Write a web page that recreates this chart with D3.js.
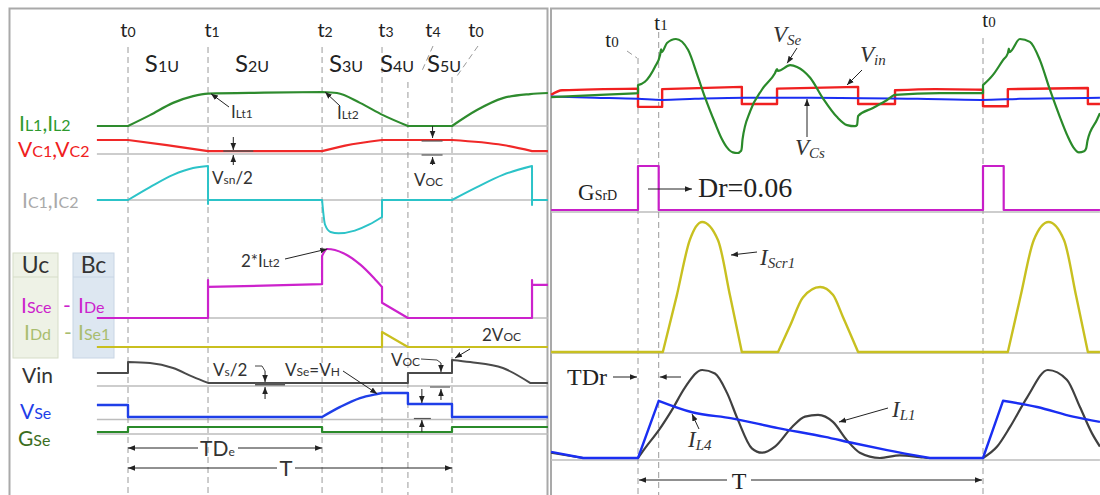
<!DOCTYPE html>
<html>
<head>
<meta charset="utf-8">
<script src="https://cdn.jsdelivr.net/npm/d3@7"></script>
<style>
  html, body { margin: 0; padding: 0; background: #fff; }
  svg { display: block; }
</style>
</head>
<body>
<svg id="chart" width="1100" height="495"></svg>
<script>
// ===================== DATA =====================
// Left panel: time in percent of the switching period T (t0 = 0, next t0 = 100)
const leftTimes      = [0, 24.7, 59.9, 78.4, 86.4, 100];
const leftTimeNames  = ["0", "1", "2", "3", "4", "0"];
const stageNames     = ["1U", "2U", "3U", "4U", "5U"];
const stageAt        = [5.2, 33, 62, 77.8, 92.3];

// Waveforms, [t, normalised level]; a repeated t marks a corner or a vertical edge
const iL12 = [[-9.6,0],[0,0],[0,0],[6.8,0.32],[13.9,0.68],[20.1,0.88],[24.7,0.95],[42,0.98],[59.9,1.0],[59.9,1.0],
  [64.5,0.97],[71.6,0.68],[78.7,0.32],[86.4,0],[86.4,0],[100,0],[100,0],[107.7,0.47],[115.7,0.82],[124.1,0.94],[129.6,0.97]];
const vC12 = [[-9.6,1],[0,1],[0,1],[12,0.64],[24.7,0.21],[24.7,0.21],[59.9,0.21],[59.9,0.21],[67,0.6],[78.4,1],[78.4,1],
  [100,1],[100,1],[115.7,0.64],[124.7,0.21],[124.7,0.21],[129.6,0.21]];
const iC12 = [[-9.6,0],[0,0],[0,0],[6.8,0.38],[13.9,0.74],[20.1,0.94],[24.7,1.0],[24.7,-0.12],[24.7,0],[59.9,0],[59.9,0],
  [60.8,-0.72],[62.5,-0.94],[65,-0.98],[70,-0.9],[74.5,-0.72],[78.4,-0.5],[78.4,0],[100,0],[100,0],[107.7,0.38],
  [115.7,0.74],[124.7,1.0],[124.7,-0.15],[124.7,0],[129.6,0]];
const iSce = [[-9.6,0],[24.7,0],[24.7,0.55],[24.7,0.45],[59.9,0.49],[59.9,0.9],[61.5,1.0],[66.5,0.94],[71.8,0.77],
  [75.9,0.58],[78.4,0.45],[78.4,0.22],[86.4,0],[86.4,0],[124.7,0],[124.7,0.55],[124.7,0.48],[129.6,0.48]];
const iDd  = [[-9.6,0],[78.4,0],[78.4,1],[86.4,0],[86.4,0],[129.6,0]];
const vInL = [[-9.6,0.5],[0,0.5],[0,0.92],[6.8,0.88],[13.9,0.69],[20.1,0.35],[24.7,0.12],[24.7,0.12],[86.4,0.12],
  [86.4,0.5],[100,0.5],[100,1.0],[105.6,0.92],[115.7,0.69],[124.1,0.12],[124.1,0.12],[129.6,0.12]];
const vSeL = [[-9.6,0.5],[0,0.5],[0,0],[59.9,0],[59.9,0],[65.5,0.42],[71.6,0.79],[76.9,0.96],[78.4,1],[78.4,1],
  [86.4,1],[86.4,0.54],[100,0.54],[100,0],[129.6,0]];
const gSeL = [[-9.6,0],[0,0],[0,1],[59.9,1],[59.9,0],[100,0],[100,1],[129.6,1]];

// Right panel: measured waveforms, time in percent of T
const rightTimes     = [0, 6, 100];
const rightTimeNames = ["0", "1", "0"];
const dutyRatio      = 0.06;          // Dr of the GSrD gate pulse
const gatePulses     = [0, 100];      // GSrD rising edges

const vSeR = [[-25.2,-0.02],[-11,0.02],[0,0.05],[0,0.19],[2,0.25],[4.9,0.51],[6.4,0.72],[6.7,0.82],[6.9,0.77],[8.4,0.93],
  [11,1.0],[14.5,0.81],[17.4,0.33],[19.4,-0.02],[22.3,-0.47],[24.2,-0.74],[25.9,-0.91],[27.5,-0.99],[28.8,-1.0],
  [29.9,-0.96],[30.1,-0.9],[30.3,-0.76],[32.5,-0.27],[35.9,0.11],[39.7,0.4],[40.3,0.47],[40.6,0.44],[44.1,0.54],
  [46.1,0.51],[49.9,0.32],[53.6,-0.04],[57.7,-0.37],[60.6,-0.51],[62.9,-0.53],[63.5,-0.51],[63.8,-0.35],[68.1,-0.21],
  [72.2,-0.07],[74.5,0.02],[87.5,0.05],[100,0.05],[100,0.19],[102.9,0.37],[105.8,0.63],[107.2,0.75],[107.5,0.83],
  [107.7,0.77],[110.7,1.0],[113.6,0.95],[116.5,0.63],[119.4,0.11],[122.3,-0.37],[124.5,-0.7],[126.2,-0.9],
  [127.8,-0.99],[129.3,-0.97],[129.9,-0.92],[130.3,-0.78],[133,-0.42],[133.9,-0.3]];
const vInR = [[-25.2,0.02],[-22,0.1],[0,0.13],[0,-0.19],[7,-0.19],[7,0.12],[30.1,0.16],[30.1,-0.14],[40.3,-0.14],
  [40.3,0.13],[63.8,0.16],[63.8,-0.14],[74.5,-0.14],[74.5,0.1],[86.1,0.12],[100,0.11],[100,-0.18],[107.2,-0.18],
  [107.2,0.12],[130.4,0.14],[130.4,-0.14],[133.9,-0.14]];
const vCsR = [[-25.2,-0.01],[-12.5,-0.03],[0,-0.05],[7,-0.07],[16.5,-0.05],[31,-0.03],[50.4,-0.03],[81,-0.05],
  [99.4,-0.07],[110.7,-0.05],[133.9,-0.03]];
const iScr1 = [[-25.2,0],[7.2,0],[7.2,0],[11.2,0.43],[15,0.86],[18.6,1],[23.2,0.86],[26.7,0.43],[30.1,0],[30.1,0],
  [40.6,0],[40.6,0],[44.2,0.21],[47.8,0.42],[52.8,0.5],[56.5,0.44],[59.4,0.27],[63.8,0],[63.8,0],[107.2,0],[107.2,0],
  [110.9,0.43],[114.7,0.86],[119,1],[123.5,0.86],[127,0.43],[130.4,0],[130.4,0],[133.9,0]];
const iL4 = [[-25.2,0.07],[-15.9,0],[-15.9,0],[0,0],[0,0],[6,0.65],[6,0.65],[15.7,0.52],[27.2,0.45],[40.6,0.34],
  [54.2,0.24],[62.3,0.17],[72.2,0.09],[84.6,0],[84.6,0],[100,0],[100,0],[105.8,0.65],[105.8,0.65],[115.7,0.58],
  [126.1,0.47],[133.9,0.41]];
const iL1 = [[-25.2,0.06],[-15.9,0],[-15.9,0],[0,0],[0,0],[2,0.11],[6.1,0.32],[9.9,0.55],[13.6,0.8],[18.6,1.0],
  [22.3,0.96],[25.8,0.74],[29,0.43],[33,0.11],[35.9,0.06],[39.7,0.13],[44.6,0.35],[48.4,0.47],[52.2,0.49],[56.5,0.41],
  [60.6,0.2],[64.3,0.06],[70.1,0],[75.9,0.03],[81.7,0.01],[84.6,0],[100,0],[100,0],[104.1,0.13],[107.8,0.35],
  [112.8,0.69],[118.8,1.0],[124.3,0.89],[128.1,0.58],[131.6,0.28],[133.9,0.13]];

// ===================== LAYOUT =====================
const svg = d3.select("#chart");
const SANS = "Lato, 'Liberation Sans', sans-serif";
const SERIF = "'Liberation Serif', 'Times New Roman', serif";
const GRID = "#bdbdbd", DASH = "#9a9a9a", INK = "#222";

const xl = d3.scaleLinear().domain([0, 100]).range([128, 452]);
const xr = d3.scaleLinear().domain([0, 100]).range([638, 983]);
const row = (base, top) => d3.scaleLinear().domain([0, 1]).range([base, top]);

const yIL = row(126, 92), yVC = row(154, 140), yIC = row(200, 166), yIS = row(318, 249),
      yID = row(347, 332), yVin = row(386, 360), yVSe = row(417, 393), yGSe = row(432, 427);
const yTop = d3.scaleLinear().domain([-1, 1]).range([153, 39]);
const yGate = row(210, 166), yScr = row(352, 222), yIL2 = row(458, 370);

// arrow head
svg.append("defs").append("marker").attr("id", "ah").attr("viewBox", "0 0 10 10")
  .attr("refX", 10).attr("refY", 5).attr("markerWidth", 7).attr("markerHeight", 7)
  .attr("markerUnits", "userSpaceOnUse").attr("orient", "auto")
  .append("path").attr("d", "M0,1 L10,5 L0,9 Z").attr("fill", INK);

// ===================== HELPERS =====================
function runs(pts) {
  const out = [[pts[0]]];
  for (let i = 1; i < pts.length; i++) {
    if (pts[i][0] === pts[i - 1][0]) out.push([pts[i]]);
    else out[out.length - 1].push(pts[i]);
  }
  return out;
}
function tracePath(pts, x, y) {
  const p = d3.path(); let started = false;
  const ctx = {
    moveTo(a, b) { if (started) p.lineTo(a, b); else { p.moveTo(a, b); started = true; } },
    lineTo(a, b) { p.lineTo(a, b); },
    bezierCurveTo(a, b, c, d, e, f) { p.bezierCurveTo(a, b, c, d, e, f); },
    closePath() {}
  };
  const gen = d3.line().x(d => x(d[0])).y(d => y(d[1])).curve(d3.curveMonotoneX).context(ctx);
  runs(pts).forEach(r => gen(r));
  return p.toString();
}
function trace(g, pts, x, y, color, w) {
  g.append("path").attr("d", tracePath(pts, x, y)).attr("fill", "none")
    .attr("stroke", color).attr("stroke-width", w).attr("stroke-linejoin", "round");
}
// text with "_{...}" parts set smaller (optionally lowered)
function rich(g, x, y, spec, o) {
  const t = g.append("text").attr("x", x).attr("y", y)
    .attr("font-family", o.font || SANS).attr("fill", o.color || INK)
    .attr("text-anchor", o.anchor || "start")
    .attr("font-style", o.italic ? "italic" : null);
  let shift = 0;
  spec.split(/(_\{[^}]*\})/).filter(s => s.length).forEach(part => {
    const sub = part.startsWith("_{");
    const want = sub ? (o.subDy || 0) : 0;
    t.append("tspan").attr("font-size", sub ? (o.sub || o.size * 0.7) : o.size)
      .attr("dy", want - shift).text(sub ? part.slice(2, -1) : part);
    shift = want;
  });
  return t;
}
function arrow(g, pts, w) {
  g.append("path").attr("d", d3.line()(pts)).attr("fill", "none").attr("stroke", INK)
    .attr("stroke-width", w || 1).attr("marker-end", "url(#ah)");
}
function seg(g, pts, color, w, dash) {
  g.append("path").attr("d", d3.line()(pts)).attr("fill", "none").attr("stroke", color)
    .attr("stroke-width", w || 1).attr("stroke-dasharray", dash || null);
}

// ===================== LEFT PANEL =====================
const L = svg.append("g");
L.append("rect").attr("x", 9.5).attr("y", 8.5).attr("width", 538).attr("height", 500)
  .attr("fill", "none").attr("stroke", "#a9a9a9").attr("stroke-width", 2);

// legend boxes
L.append("rect").attr("x", 13).attr("y", 253).attr("width", 45).attr("height", 105)
  .attr("fill", "#eef2e6").attr("stroke", "#d6ddc8");
L.append("rect").attr("x", 73).attr("y", 253).attr("width", 41).attr("height", 105)
  .attr("fill", "#dde7f1").attr("stroke", "#c8d5e4");
seg(L, [[13, 277], [58, 277]], "#d6ddc8", 1);
seg(L, [[73, 277], [114, 277]], "#c8d5e4", 1);

// baselines
[yIL(0), yVC(0), yIC(0), yIS(0), yID(0), yVin(0), yVSe(0) + 2.5, yGSe(0) + 2].forEach(y =>
  seg(L, [[xl(-9.6), y], [xl(129.6), y]], GRID, 1.5));

// dashed time markers
const leftDashTop = [47, 47, 47, 47, 82, 77];
const leftLabelDx = [0, 4, 3, 4, 25, 24];
leftTimes.forEach((t, i) => {
  seg(L, [[xl(t), leftDashTop[i]], [xl(t), 495]], DASH, 1, "6,4");
  rich(L, xl(t) + leftLabelDx[i], 37, "t_{" + leftTimeNames[i] + "}", { size: 20, sub: 14, anchor: "middle" });
});
seg(L, [[433, 46], [421, 73]], DASH, 1, "6,4");
seg(L, [[478, 46], [457, 76]], DASH, 1, "6,4");
stageNames.forEach((s, i) => rich(L, xl(stageAt[i]), 72, "S_{" + s + "}", { size: 24, sub: 16 }));

// waveforms
trace(L, iL12, xl, yIL, "#2e8b2e", 2.2);
trace(L, vC12, xl, yVC, "#f02828", 2.2);
trace(L, iC12, xl, yIC, "#2cc3c8", 2);
trace(L, iSce, xl, yIS, "#cc22cc", 2.2);
trace(L, iDd,  xl, yID, "#c9bf1f", 2.2);
trace(L, vInL, xl, yVin, "#4a4a4a", 2);
trace(L, vSeL, xl, yVSe, "#1f3fe8", 2.4);
trace(L, gSeL, xl, yGSe, "#2a8a2a", 2.2);

// row labels
const leftLabels = [
  ["I_{L1},I_{L2}", 19, 131, "#2e9a2e"], ["V_{C1},V_{C2}", 18, 157, "#f02020"],
  ["I_{C1},I_{C2}", 22, 208, "#a9a9a9"], ["I_{Sce}", 21, 313, "#cc22cc"], ["-", 63, 313, "#cc22cc"],
  ["I_{De}", 78, 313, "#cc22cc"], ["I_{Dd}", 24, 340, "#a9bd6f"], ["-", 64, 340, "#a9bd6f"],
  ["I_{Se1}", 78, 340, "#a9bd6f"], ["Vin", 22, 383, "#333"], ["V_{Se}", 20, 419, "#1f3fe8"],
  ["G_{Se}", 18, 446, "#3c6e1e"]
];
leftLabels.forEach(d => rich(L, d[1], d[2], d[0], { size: 21, sub: 16, color: d[3] }));
rich(L, 35.5, 273, "Uc", { size: 23, anchor: "middle", color: "#333" });
rich(L, 93.5, 273, "Bc", { size: 23, anchor: "middle", color: "#333" });

// annotations
const aSize = { size: 17, sub: 12, color: "#333" };
rich(L, 231, 118, "I_{Lt1}", aSize);
arrow(L, [[229, 107], [xl(24.7) + 3, yIL(0.95)]]);
rich(L, 337, 119, "I_{Lt2}", aSize);
arrow(L, [[340, 106], [xl(59.9) + 3, yIL(1)]]);
rich(L, 241, 267, "2*I_{Lt2}", aSize);
arrow(L, [[285, 259], [xl(61.5), yIS(1)]]);

const xa = xl(32.5);
arrow(L, [[xa, 137], [xa, yVC(0.21) - 1]]);
seg(L, [[xa - 10, yVC(0.21)], [xa + 20, yVC(0.21)]], "#555", 1.5);
arrow(L, [[xa, 165], [xa, yVC(0) + 1]]);
rich(L, 212, 184, "V_{sn}/2", aSize);

const xb = xl(94);
arrow(L, [[xb, 126], [xb, yVC(1) - 2]]);
seg(L, [[xb - 11, yVC(1) + 1], [xb + 10, yVC(1) + 1]], "#555", 1.2);
seg(L, [[xb - 11, yVC(0) + 1], [xb + 10, yVC(0) + 1]], "#555", 1.2);
arrow(L, [[xb, 165], [xb, yVC(0) + 3]]);
rich(L, 414, 186, "V_{OC}", aSize);

const xc = xl(42.3);
rich(L, 213, 376, "V_{s}/2", aSize);
seg(L, [[255, 366], [262, 366], [xc, 371]], "#444", 1);
arrow(L, [[xc, 371], [xc, 382]]);
seg(L, [[xc - 10, 384], [xc + 20, 384]], "#555", 3);
arrow(L, [[xc, 399], [xc, 387]]);

rich(L, 285, 376, "V_{Se}=V_{H}", aSize);
arrow(L, [[343, 371], [xl(76.9), yVSe(0.97)]]);

const xd = xl(96.6);
rich(L, 391, 366, "V_{OC}", aSize);
seg(L, [[421, 359], [437, 360], [xd, 363]], "#444", 1);
arrow(L, [[xd, 363], [xd, yVin(0.5) - 1]]);
seg(L, [[xd - 11, 387], [xd + 9, 387]], "#777", 1.5);
arrow(L, [[xd, 400], [xd, 389]]);

const xe = xl(90.7);
arrow(L, [[xe, 389], [xe, yVSe(0.54) - 1]]);
seg(L, [[xe - 8, 418.5], [xe + 9, 418.5]], "#555", 1.2);
arrow(L, [[xe, 432], [xe, 420]]);

rich(L, 482, 341, "2V_{OC}", aSize);
arrow(L, [[470, 349], [xl(100) + 3, yVin(1) - 2]]);

// TDe and T spans
arrow(L, [[198, 448], [xl(0), 448]]);
arrow(L, [[238, 448], [xl(59.9), 448]]);
rich(L, 200, 456, "TD_{e}", { size: 21, sub: 12, color: "#333" });
arrow(L, [[277, 468], [xl(0), 468]]);
arrow(L, [[295, 468], [xl(100), 468]]);
rich(L, 286, 476, "T", { size: 22, anchor: "middle", color: "#333" });

// ===================== RIGHT PANEL =====================
const R = svg.append("g");
R.append("rect").attr("x", 551).attr("y", 8.5).attr("width", 560).attr("height", 500)
  .attr("fill", "none").attr("stroke", "#a9a9a9").attr("stroke-width", 2);

[yGate(0) + 2, yScr(0) + 1, yIL2(0) + 2].forEach(y =>
  seg(R, [[xr(-25.2), y], [xr(133.9), y]], GRID, 1.5));

const rightDashTop = [58, 32, 38];
const rightLabelPos = [[612, 47], [661, 30], [989, 27]];
rightTimes.forEach((t, i) => {
  seg(R, [[xr(t), rightDashTop[i]], [xr(t), 495]], DASH, 1, "6,4");
  rich(R, rightLabelPos[i][0], rightLabelPos[i][1], "t_{" + rightTimeNames[i] + "}",
    { font: SERIF, size: 21, sub: 15, anchor: "middle" });
});
seg(R, [[627, 51], [637, 58]], DASH, 1, "6,4");

// gate pulse from the duty ratio
const gsrd = [[-25.2, 0]];
gatePulses.forEach(t0 => {
  const t1 = t0 + dutyRatio * 100;
  gsrd.push([t0, 0], [t0, 1], [t1, 1], [t1, 0]);
});
gsrd.push([133.9, 0]);

trace(R, vInR, xr, yTop, "#f02020", 2.4);
trace(R, vCsR, xr, yTop, "#1a2ef2", 2);
trace(R, vSeR, xr, yTop, "#2a8a2a", 2.2);
trace(R, gsrd, xr, yGate, "#c81ec8", 2.2);
trace(R, iScr1, xr, yScr, "#c8c020", 2.4);
trace(R, iL1, xr, yIL2, "#404040", 2.2);
trace(R, iL4, xr, yIL2, "#1a2ef2", 2.4);

const it = { font: SERIF, italic: true, size: 23, sub: 15, subDy: 3, color: "#333" };
rich(R, 773, 42, "V_{Se}", it);
arrow(R, [[797, 48], [xr(44.1) - 3, yTop(0.54) - 2]]);
rich(R, 860, 62, "V_{in}", it);
arrow(R, [[862, 70], [847, 85]]);
rich(R, 795, 155, "V_{Cs}", it);
arrow(R, [[807, 137], [807, 99]]);
rich(R, 760, 265, "I_{Scr1}", it);
arrow(R, [[757, 252], [731, 255]]);
rich(R, 892, 417, "I_{L1}", it);
arrow(R, [[888, 408], [839, 422]]);
rich(R, 688, 447, "I_{L4}", it);
arrow(R, [[699, 429], [692, 414]]);

const rs = { font: SERIF, size: 23, sub: 14, color: "#222" };
rich(R, 578, 200, "G_{SrD}", rs);
arrow(R, [[648, 189], [692, 189]]);
rich(R, 698, 197, "Dr=" + dutyRatio.toFixed(2), { font: SERIF, size: 28, color: "#222" });
rich(R, 567, 385, "TDr", { font: SERIF, size: 24, color: "#222" });
arrow(R, [[613, 377], [xr(0) - 1, 377]]);
arrow(R, [[681, 377], [xr(6) + 1, 377]]);
arrow(R, [[727, 480], [xr(0) + 1, 480]]);
arrow(R, [[751, 480], [xr(100) - 1, 480]]);
rich(R, 739, 489, "T", { font: SERIF, size: 24, anchor: "middle", color: "#222" });
</script>
</body>
</html>
